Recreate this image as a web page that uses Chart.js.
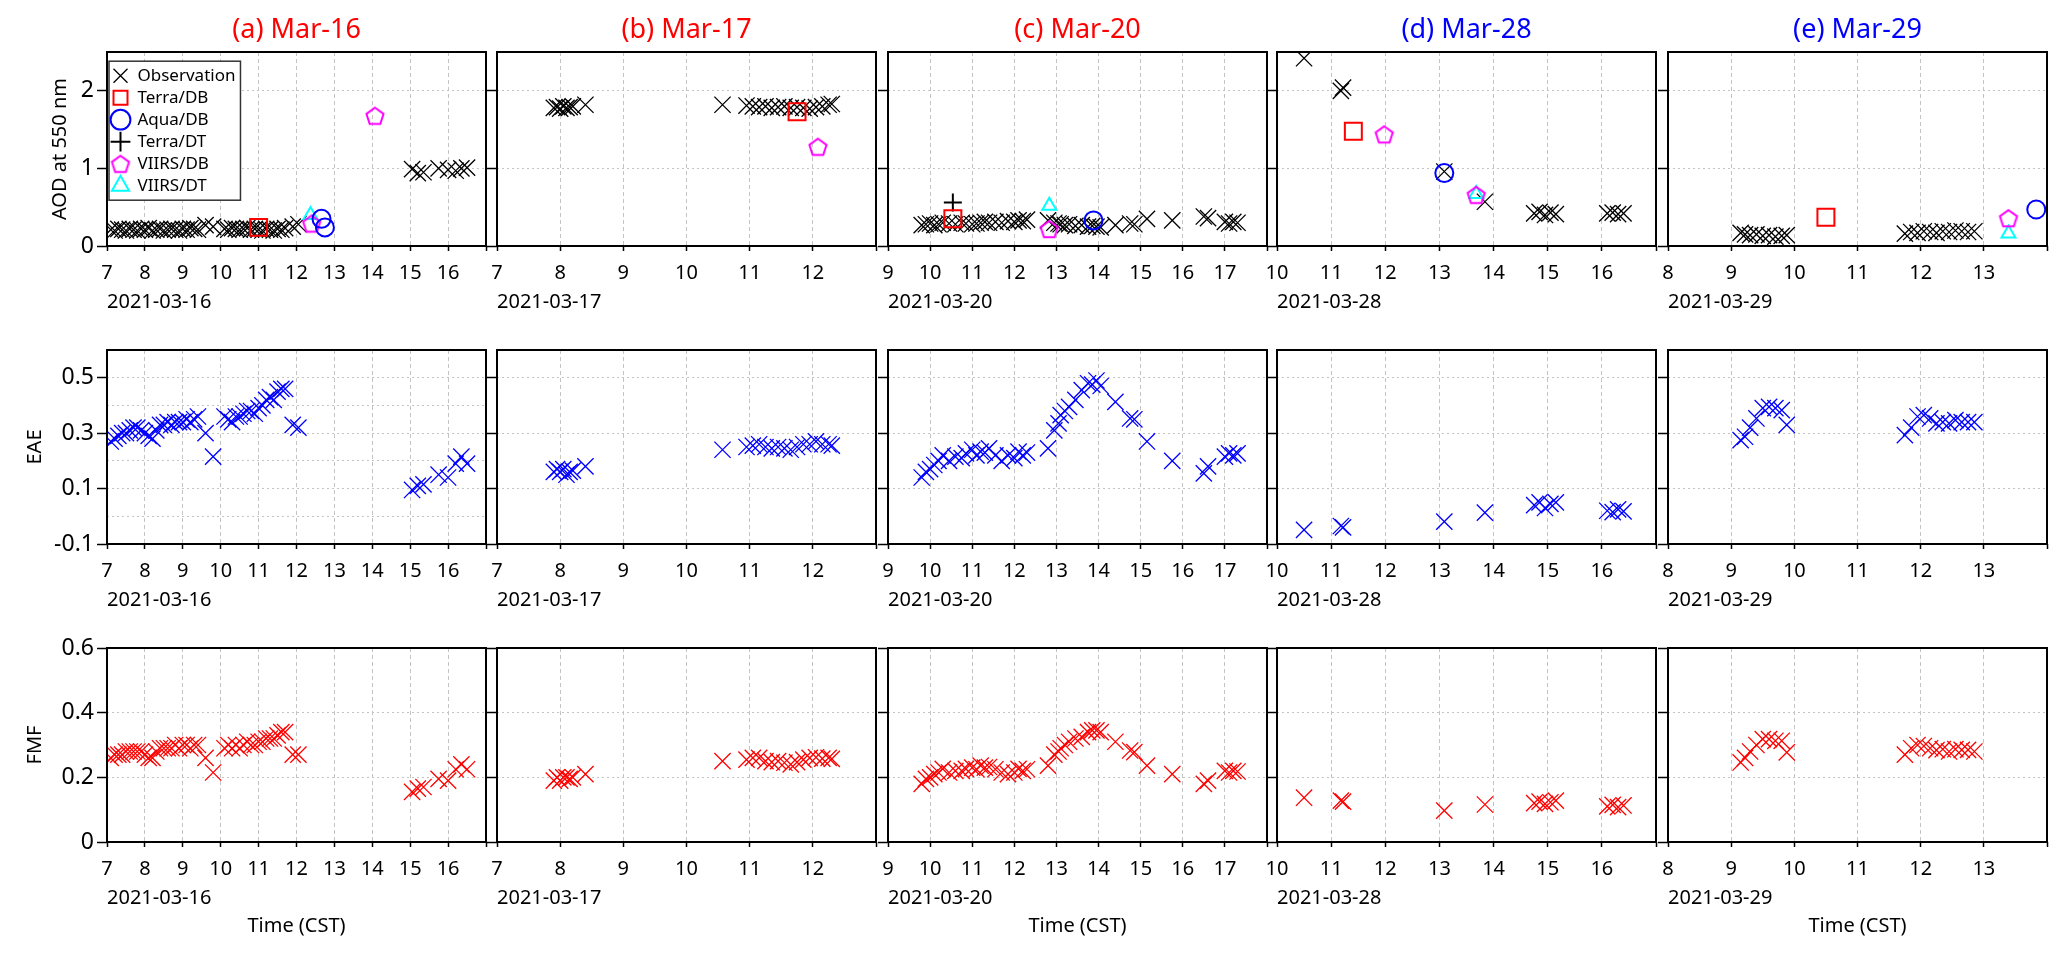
<!DOCTYPE html>
<html>
<head>
<meta charset="utf-8">
<script src="https://cdn.jsdelivr.net/npm/chart.js@4.4.1/dist/chart.umd.min.js"></script>
<style>
  body { margin: 0; background: #fff; width: 2067px; height: 957px; position: relative; overflow: hidden; }
  .panel { position: absolute; }
</style>
</head>
<body>
<script>
// ---- panels ----
const dayLabels = ['2021-03-16', '2021-03-17', '2021-03-20', '2021-03-28', '2021-03-29'];
const panelTitles = ['(a) Mar-16', '(b) Mar-17', '(c) Mar-20', '(d) Mar-28', '(e) Mar-29'];
const titleColors = ['#ff0000', '#ff0000', '#ff0000', '#0000ff', '#0000ff'];
const xHours = [
  [7, 8, 9, 10, 11, 12, 13, 14, 15, 16, 17],
  [7, 8, 9, 10, 11, 12, 13],
  [9, 10, 11, 12, 13, 14, 15, 16, 17, 18],
  [10, 11, 12, 13, 14, 15, 16, 17],
  [8, 9, 10, 11, 12, 13, 14]
];
const rowTitles = ['AOD at 550 nm', 'EAE', 'FMF'];
const yRange = [[0, 2.5], [-0.1, 0.6], [0, 0.6]];
const aodTicks = [0, 1, 2];
const aodLabels = ['0', '1', '2'];
const eaeTicks = [-0.1, 0.1, 0.3, 0.5];
const eaeLabels = ['-0.1', '0.1', '0.3', '0.5'];
const eaeMinorA = [0, 0.2, 0.4];   // extra grid lines in panel (a) only
const fmfTicks = [0, 0.2, 0.4, 0.6];
const fmfLabels = ['0', '0.2', '0.4', '0.6'];

// ---- ground observations (time in CST hours) ----
const t16 = [7.1, 7.2, 7.3, 7.4, 7.5, 7.6, 7.7, 7.8, 7.9, 8.0, 8.1, 8.2, 8.3, 8.4, 8.5, 8.6, 8.7, 8.8, 8.9, 9.0, 9.1, 9.2, 9.3, 9.4,
  9.6, 9.8, 10.1, 10.2, 10.3, 10.4, 10.5, 10.6, 10.7, 10.8, 10.9, 11.0, 11.1, 11.2, 11.3, 11.4, 11.5, 11.6, 11.7,
  11.9, 12.05, 15.05, 15.2, 15.35, 15.75, 16.0, 16.2, 16.35, 16.5];
const aod16 = [0.21, 0.20, 0.22, 0.21, 0.20, 0.22, 0.21, 0.20, 0.22, 0.21, 0.23, 0.20, 0.21, 0.22, 0.20, 0.21, 0.22, 0.21, 0.20, 0.22, 0.21, 0.23, 0.22, 0.21,
  0.27, 0.25, 0.22, 0.21, 0.23, 0.22, 0.21, 0.22, 0.23, 0.21, 0.22, 0.21, 0.20, 0.22, 0.21, 0.20, 0.22, 0.21, 0.23,
  0.25, 0.28, 0.99, 0.94, 0.95, 1.00, 0.98, 0.97, 1.00, 1.01];
const eae16 = [0.27, 0.28, 0.29, 0.30, 0.30, 0.31, 0.32, 0.32, 0.31, 0.30, 0.29, 0.28, 0.31, 0.33, 0.33, 0.34, 0.33, 0.34, 0.34, 0.34, 0.35, 0.34, 0.35, 0.36,
  0.30, 0.215, 0.36, 0.35, 0.34, 0.36, 0.36, 0.37, 0.38, 0.38, 0.37, 0.39, 0.40, 0.42, 0.43, 0.42, 0.45, 0.46, 0.46,
  0.33, 0.32, 0.095, 0.11, 0.115, 0.15, 0.14, 0.19, 0.215, 0.19];
const fmf16 = [0.26, 0.27, 0.27, 0.27, 0.28, 0.28, 0.28, 0.28, 0.28, 0.27, 0.26, 0.26, 0.28, 0.29, 0.29, 0.29, 0.29, 0.30, 0.29, 0.30, 0.30, 0.29, 0.30, 0.30,
  0.26, 0.215, 0.29, 0.30, 0.29, 0.30, 0.29, 0.30, 0.31, 0.30, 0.30, 0.31, 0.31, 0.32, 0.32, 0.32, 0.33, 0.34, 0.34,
  0.27, 0.27, 0.155, 0.165, 0.17, 0.195, 0.19, 0.225, 0.24, 0.225];

const t17 = [7.9, 7.95, 8.0, 8.05, 8.1, 8.15, 8.2, 8.4, 10.57, 10.95, 11.05, 11.15, 11.25, 11.35, 11.45, 11.55, 11.65, 11.75, 11.85, 11.95, 12.05, 12.15, 12.25, 12.3];
const aod17 = [1.78, 1.79, 1.77, 1.80, 1.78, 1.79, 1.80, 1.82, 1.82, 1.81, 1.80, 1.79, 1.80, 1.78, 1.79, 1.80, 1.78, 1.79, 1.78, 1.77, 1.79, 1.80, 1.82, 1.83];
const eae17 = [0.16, 0.17, 0.16, 0.17, 0.15, 0.16, 0.165, 0.18, 0.24, 0.25, 0.255, 0.26, 0.25, 0.245, 0.25, 0.245, 0.24, 0.25, 0.26, 0.26, 0.27, 0.26, 0.26, 0.255];
const fmf17 = [0.19, 0.20, 0.19, 0.20, 0.20, 0.195, 0.20, 0.21, 0.25, 0.255, 0.26, 0.26, 0.25, 0.247, 0.25, 0.245, 0.24, 0.247, 0.255, 0.26, 0.262, 0.258, 0.26, 0.257];

const t20 = [9.8, 9.9, 10.0, 10.1, 10.2, 10.3, 10.45, 10.6, 10.75, 10.85, 11.0, 11.1, 11.2, 11.3, 11.4, 11.55, 11.7, 11.85, 12.0, 12.1,
  12.2, 12.3, 12.8, 12.95, 13.05, 13.1, 13.2, 13.3, 13.45, 13.6, 13.75, 13.85, 13.95, 14.05,
  14.4, 14.75, 14.85, 15.15, 15.75, 16.5, 16.6, 17.0, 17.1, 17.2, 17.3];
const aod20 = [0.27, 0.28, 0.29, 0.27, 0.28, 0.30, 0.29, 0.28, 0.30, 0.29, 0.28, 0.29, 0.30, 0.31, 0.30, 0.31, 0.30, 0.32, 0.31, 0.33,
  0.32, 0.34, 0.33, 0.30, 0.29, 0.28, 0.27, 0.28, 0.26, 0.27, 0.25, 0.26, 0.25, 0.24,
  0.27, 0.29, 0.28, 0.35, 0.33, 0.38, 0.36, 0.31, 0.29, 0.31, 0.30];
const eae20 = [0.14, 0.16, 0.17, 0.185, 0.20, 0.22, 0.20, 0.215, 0.21, 0.227, 0.24, 0.22, 0.233, 0.23, 0.245, 0.22, 0.20, 0.22, 0.21, 0.233,
  0.22, 0.23, 0.245, 0.31, 0.335, 0.365, 0.38, 0.395, 0.42, 0.455, 0.48, 0.475, 0.49, 0.47,
  0.413, 0.353, 0.35, 0.27, 0.20, 0.155, 0.18, 0.215, 0.227, 0.22, 0.227];
const fmf20 = [0.18, 0.195, 0.20, 0.21, 0.215, 0.226, 0.215, 0.22, 0.22, 0.226, 0.23, 0.225, 0.236, 0.23, 0.232, 0.225, 0.215, 0.21, 0.215, 0.226,
  0.22, 0.225, 0.236, 0.27, 0.28, 0.29, 0.30, 0.31, 0.32, 0.325, 0.34, 0.345, 0.345, 0.34,
  0.31, 0.283, 0.278, 0.236, 0.21, 0.18, 0.19, 0.22, 0.215, 0.22, 0.218];

const t28 = [10.5, 11.18, 11.22, 13.09, 13.84, 14.75, 14.85, 14.95, 15.05, 15.15, 16.1, 16.2, 16.3, 16.4];
const aod28 = [2.42, 2.00, 2.04, 0.96, 0.57, 0.42, 0.44, 0.40, 0.43, 0.41, 0.42, 0.43, 0.41, 0.42];
const eae28 = [-0.049, -0.035, -0.04, -0.019, 0.013, 0.04, 0.05, 0.03, 0.045, 0.05, 0.02, 0.015, 0.025, 0.018];
const fmf28 = [0.137, 0.128, 0.125, 0.097, 0.116, 0.12, 0.125, 0.118, 0.123, 0.128, 0.11, 0.115, 0.108, 0.113];

const t29 = [9.15, 9.22, 9.3, 9.4, 9.5, 9.6, 9.7, 9.8, 9.88, 11.75, 11.85, 11.95, 12.05, 12.15, 12.25, 12.35, 12.45, 12.55, 12.65, 12.75, 12.85];
const aod29 = [0.17, 0.15, 0.14, 0.15, 0.13, 0.14, 0.12, 0.13, 0.14, 0.16, 0.18, 0.17, 0.19, 0.18, 0.17, 0.19, 0.18, 0.20, 0.19, 0.18, 0.19];
const eae29 = [0.275, 0.287, 0.32, 0.353, 0.39, 0.395, 0.39, 0.383, 0.33, 0.293, 0.32, 0.36, 0.365, 0.353, 0.335, 0.34, 0.335, 0.347, 0.34, 0.34, 0.34];
const fmf29 = [0.246, 0.26, 0.28, 0.30, 0.318, 0.318, 0.313, 0.313, 0.277, 0.27, 0.29, 0.30, 0.297, 0.29, 0.284, 0.287, 0.28, 0.287, 0.285, 0.285, 0.28];

// ---- satellite retrievals (AOD only), day index = column ----
const terraDBDay = [0, 1, 2, 3, 4];
const terraDBTime = [11.0, 11.75, 10.54, 11.41, 10.5];
const terraDBAod = [0.24, 1.73, 0.35, 1.48, 0.37];
const aquaDBDay = [0, 0, 2, 3, 4];
const aquaDBTime = [12.66, 12.75, 13.88, 13.09, 13.83];
const aquaDBAod = [0.35, 0.24, 0.33, 0.94, 0.47];
const terraDTDay = [2];
const terraDTTime = [10.54];
const terraDTAod = [0.56];
const viirsDBDay = [0, 0, 1, 2, 3, 3, 4];
const viirsDBTime = [14.07, 12.4, 12.08, 12.83, 11.98, 13.68, 13.39];
const viirsDBAod = [1.68, 0.29, 1.28, 0.22, 1.44, 0.66, 0.36];
const viirsDTDay = [0, 2, 3, 4];
const viirsDTTime = [12.37, 12.83, 13.68, 13.39];
const viirsDTAod = [0.40, 0.52, 0.67, 0.16];

// ---- layout (px) ----
const plotLeft = [107, 497, 888, 1277, 1668];
const plotTop = [52, 350, 648];
const plotW = 379, plotH = 194;
const axisW = 107, padRight = 20, topH = 52, bottomH = 70, timeH = 40;
const yTitleGap = [48, 23, 23];   // space left of the rotated y title (column a)
const gridGray = '#c4c4c4';

Chart.defaults.font.family = "'Noto Sans', sans-serif";
Chart.defaults.color = '#000';
Chart.defaults.animation = false;

function pentagon(color, r, lw) {
  const size = Math.ceil(2 * r + lw + 4);
  const cv = document.createElement('canvas');
  cv.width = size; cv.height = size;
  const g = cv.getContext('2d');
  g.strokeStyle = color; g.lineWidth = lw;
  g.beginPath();
  for (let i = 0; i < 5; i++) {
    const a = -Math.PI / 2 + i * 2 * Math.PI / 5;
    const px = size / 2 + r * Math.cos(a), py = size / 2 + r * Math.sin(a) + 1;
    if (i === 0) g.moveTo(px, py); else g.lineTo(px, py);
  }
  g.closePath(); g.stroke();
  return cv;
}

const sats = [
  {name: 'Terra/DB', day: terraDBDay, t: terraDBTime, v: terraDBAod, style: 'rect', r: 12, color: '#ff0000'},
  {name: 'Aqua/DB', day: aquaDBDay, t: aquaDBTime, v: aquaDBAod, style: 'circle', r: 9, color: '#0000ff'},
  {name: 'Terra/DT', day: terraDTDay, t: terraDTTime, v: terraDTAod, style: 'cross', r: 9, color: '#000000'},
  {name: 'VIIRS/DB', day: viirsDBDay, t: viirsDBTime, v: viirsDBAod, style: pentagon('#ff00ff', 9, 2), r: 9, color: '#ff00ff'},
  {name: 'VIIRS/DT', day: viirsDTDay, t: viirsDTTime, v: viirsDTAod, style: 'triangle', r: 8, color: '#00ffff'}
];

const obsTime = [t16, t17, t20, t28, t29];
const obsVals = [[aod16, aod17, aod20, aod28, aod29], [eae16, eae17, eae20, eae28, eae29], [fmf16, fmf17, fmf20, fmf28, fmf29]];
const obsColor = ['#000000', '#0000ff', '#ff0000'];

function pts(xs, ys) { return xs.map((x, i) => ({x: x, y: ys[i]})); }
function satPts(s, c) {
  const out = [];
  s.day.forEach((d, i) => { if (d === c) out.push({x: s.t[i], y: s.v[i]}); });
  return out;
}
const near = (a, b) => Math.abs(a - b) < 1e-9;

const framePlugin = {
  id: 'frame',
  afterDraw(chart) {
    const {ctx, chartArea: a} = chart;
    ctx.save();
    ctx.strokeStyle = '#000'; ctx.lineWidth = 2;
    ctx.strokeRect(a.left, a.top, a.right - a.left, a.bottom - a.top);
    ctx.restore();
  }
};

// in-plot legend of panel (a): keep it inside the plot, white box with a border
const legendBoxPlugin = {
  id: 'legendBox',
  afterLayout(chart) {
    const lg = chart.legend;
    if (!lg || !lg.options.display) return;
    lg.top = chart.chartArea.top;
    lg.bottom = chart.chartArea.bottom;
  },
  afterDraw(chart) {
    const lg = chart.legend;
    if (!lg || !lg.options.display || !lg.legendHitBoxes || !lg.legendHitBoxes.length) return;
    let l = Infinity, t = Infinity, r = -Infinity, b = -Infinity;
    lg.legendHitBoxes.forEach(h => {
      l = Math.min(l, h.left); t = Math.min(t, h.top);
      r = Math.max(r, h.left + h.width); b = Math.max(b, h.top + h.height);
    });
    const ctx = chart.ctx;
    ctx.save();
    ctx.fillStyle = '#fff';
    ctx.fillRect(l - 3, t - 6, r - l + 8, b - t + 12);
    ctx.strokeStyle = '#333'; ctx.lineWidth = 1.5;
    ctx.strokeRect(l - 3, t - 6, r - l + 8, b - t + 12);
    ctx.restore();
    lg.draw();
  }
};

function makePanel(r, c) {
  const hasTime = r === 2 && (c === 0 || c === 2 || c === 4);
  const w = axisW + plotW + padRight;
  const h = topH + plotH + bottomH + (r === 2 ? timeH : 0);
  const div = document.createElement('div');
  div.className = 'panel';
  div.style.left = (plotLeft[c] - axisW) + 'px';
  div.style.top = (plotTop[r] - topH) + 'px';
  div.style.width = w + 'px'; div.style.height = h + 'px';
  const cv = document.createElement('canvas');
  cv.width = w; cv.height = h;
  div.appendChild(cv);
  document.body.appendChild(div);

  const datasets = [{
    label: 'Observation', data: pts(obsTime[c], obsVals[r][c]),
    pointStyle: 'crossRot', pointRadius: 11.5, pointBorderWidth: 1.3,
    pointBorderColor: obsColor[r], pointBackgroundColor: 'transparent', order: 1
  }];
  if (r === 0) {
    sats.forEach(s => datasets.push({
      label: s.name, data: satPts(s, c), pointStyle: s.style, pointRadius: s.r,
      pointBorderWidth: 2, pointBorderColor: s.color, pointBackgroundColor: 'transparent', order: 0
    }));
  }

  let gridVals, tickVals, tickLabels;
  if (r === 0) { gridVals = aodTicks; tickVals = aodTicks; tickLabels = aodLabels; }
  else if (r === 1) { gridVals = c === 0 ? eaeTicks.concat(eaeMinorA).sort((a, b) => a - b) : eaeTicks; tickVals = eaeTicks; tickLabels = eaeLabels; }
  else { gridVals = fmfTicks; tickVals = fmfTicks; tickLabels = fmfLabels; }
  const [yMin, yMax] = yRange[r];
  const hours = xHours[c];
  const xMin = hours[0], xMax = hours[hours.length - 1];

  // rotated y label (column a) as a left-hand title box; width = 24 + gap + 2
  const yLabel = {display: c === 0, position: 'left', text: rowTitles[r], color: '#000', fullSize: false,
    font: {size: 20, weight: 'normal'}, padding: {top: yTitleGap[r], bottom: 2}};
  const yLabelW = c === 0 ? 20 * 1.2 + yTitleGap[r] + 2 : 0;
  const panelTitle = {display: r === 0, text: panelTitles[c], color: titleColors[c], fullSize: false,
    font: {size: 27, weight: 'normal'}, padding: {top: 14.6, bottom: 5}};
  const timeLabel = {display: hasTime, position: 'bottom', text: 'Time (CST)', color: '#000', fullSize: false,
    font: {size: 20, weight: 'normal'}, padding: {top: 2, bottom: 14}};
  let titleOpt, subtitleOpt;
  if (r === 0) { titleOpt = panelTitle; subtitleOpt = yLabel; }
  else if (r === 1) { titleOpt = yLabel; subtitleOpt = {display: false}; }
  else { titleOpt = yLabel; subtitleOpt = timeLabel; }

  new Chart(cv, {
    type: 'scatter',
    data: {datasets: datasets},
    options: {
      responsive: false,
      events: [],
      layout: {padding: {left: 0, right: padRight, top: r === 0 ? 0 : topH, bottom: (r === 2 && !hasTime) ? timeH : 0}},
      scales: {
        x: {
          type: 'linear', min: xMin, max: xMax,
          afterBuildTicks: s => { s.ticks = hours.map(v => ({value: v})); },
          afterFit: s => { s.height = bottomH; },
          ticks: {autoSkip: false, maxRotation: 0, padding: 10, font: {size: 20},
            callback: v => (near(v, xMax) ? '' : String(v))},
          grid: {
            color: ctx => (ctx.tick && ctx.tick.value > xMin && ctx.tick.value < xMax) ? gridGray : 'rgba(0,0,0,0)',
            lineWidth: 1, tickLength: 5, tickColor: '#000', tickWidth: 1.5
          },
          border: {display: false, dash: [4, 3]},
          title: {display: true, text: dayLabels[c], align: 'start', font: {size: 20}, padding: {top: 0, bottom: 2}}
        },
        y: {
          type: 'linear', min: yMin, max: yMax,
          afterBuildTicks: s => { s.ticks = gridVals.map(v => ({value: v})); },
          afterFit: s => { s.width = axisW - yLabelW; },
          ticks: {display: c === 0, padding: 3, font: {size: 23},
            callback: v => { const k = tickVals.findIndex(t => near(t, v)); return k >= 0 ? tickLabels[k] : ''; }},
          grid: {
            color: ctx => (ctx.tick && ctx.tick.value > yMin + 1e-9 && ctx.tick.value < yMax - 1e-9) ? gridGray : 'rgba(0,0,0,0)',
            lineWidth: 1, tickLength: 10, tickWidth: 1.5,
            tickColor: ctx => (ctx.tick && tickVals.some(t => near(t, ctx.tick.value))) ? '#000' : 'rgba(0,0,0,0)'
          },
          border: {display: false, dash: [2, 3]},
          title: {display: false}
        }
      },
      plugins: {
        title: titleOpt,
        subtitle: subtitleOpt,
        legend: {
          display: r === 0 && c === 0,
          position: 'chartArea', align: 'start',
          title: {display: true, text: '', font: {size: 6}, padding: {top: 3, bottom: 0}},
          labels: {usePointStyle: true, boxHeight: 14, padding: 5, color: '#000', font: {size: 17},
            sort: (a, b) => a.datasetIndex - b.datasetIndex}
        },
        tooltip: {enabled: false}
      }
    },
    plugins: [framePlugin, legendBoxPlugin]
  });
}

for (let r = 0; r < 3; r++) {
  for (let c = 0; c < 5; c++) makePanel(r, c);
}
</script>
</body>
</html>
